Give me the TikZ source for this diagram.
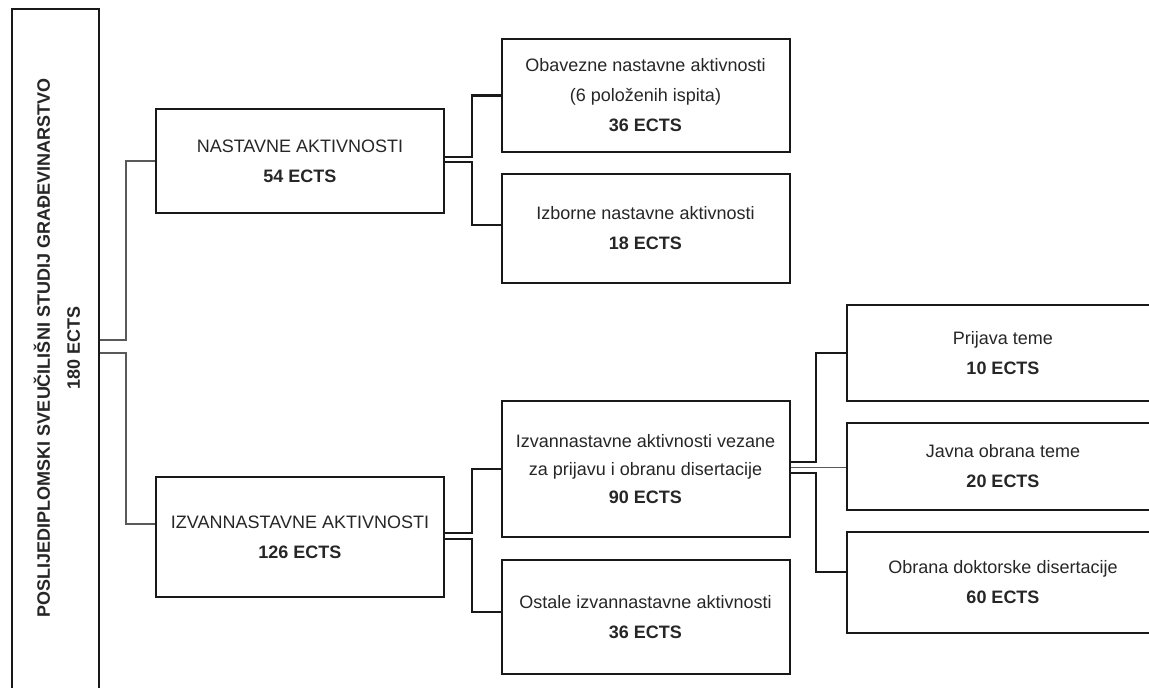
\documentclass[tikz,border=0pt]{standalone}
\usepackage{fontspec}
\setmainfont{Liberation Sans}
\usetikzlibrary{positioning}

\begin{document}
\begin{tikzpicture}
      [x=1pt, y=-1pt,
        box/.style={
          draw=black!90, line width=2pt,
          minimum width=288pt,
          inner sep=0pt,
          align=center, text=black!85,
          font=\fontsize{18}{30}\selectfont},
        link/.style={draw=black!90, line width=2.2pt},
        thinlink/.style={draw=black!65, line width=1.2pt}]
      \useasboundingbox (0,0) rectangle (1149,688);
      \clip (0,0) rectangle (1149,688);
      % root column
      \node[box, minimum width=87pt, minimum height=701pt] (root) at (55.5,359.5) {};
      \node[rotate=90, align=center, text=black!85,
        font=\bfseries\fontsize{18}{30}\selectfont] (roottext) at (57,348)
        {POSLIJEDIPLOMSKI SVEUČILIŠNI STUDIJ GRAĐEVINARSTVO\\180 ECTS};
      % second level
      \node[box, minimum height=104pt] (nast) at (300,161) {NASTAVNE AKTIVNOSTI\\\textbf{54 ECTS}};
      \node[box, minimum height=120pt] (izvan) at (300,537) {IZVANNASTAVNE AKTIVNOSTI\\\textbf{126 ECTS}};
      % third level
      \node[box, minimum height=113pt] (obav) at (645.5,95.5)
        {Obavezne nastavne aktivnosti\\(6 položenih ispita)\\\textbf{36 ECTS}};
      \node[box, minimum height=109pt] (izbor) at (645.5,228.5)
        {Izborne nastavne aktivnosti\\\textbf{18 ECTS}};
      \node[box, minimum height=136pt, font=\fontsize{18}{28}\selectfont] (vez) at (645.5,469)
        {Izvannastavne aktivnosti vezane\\za prijavu i obranu disertacije\\\textbf{90 ECTS}};
      \node[box, minimum height=114pt] (ostale) at (645.5,617)
        {Ostale izvannastavne aktivnosti\\\textbf{36 ECTS}};
      % fourth level
      \node[box, minimum width=312pt, minimum height=96pt] (prij) at (1003,353)
        {Prijava teme\\\textbf{10 ECTS}};
      \node[box, minimum width=312pt, minimum height=87pt] (javna) at (1003,466.5)
        {Javna obrana teme\\\textbf{20 ECTS}};
      \node[box, minimum width=312pt, minimum height=101pt] (obrana) at (1003,582.5)
        {Obrana doktorske disertacije\\\textbf{60 ECTS}};
      % connectors
      \draw[thinlink] (root.east |- 0,340) -- (126,340) |- (nast.west);
      \draw[thinlink] (root.east |- 0,353) -- (126,353) |- (izvan.west |- 0,524);
      \draw[link] (nast.east |- 0,157) -- (472,157) |- (obav.west);
      \draw[link] (nast.east |- 0,162) -- (472,162) |- (izbor.west |- 0,225);
      \draw[link] (izvan.east |- 0,533) -- (472,533) |- (vez.west);
      \draw[link] (izvan.east |- 0,539) -- (472,539) |- (ostale.west |- 0,612);
      \draw[link] (vez.east |- 0,462) -- (816,462) |- (prij.west);
      \draw[thinlink] (vez.east |- 0,467.5) -- (javna.west |- 0,467.5);
      \draw[link] (vez.east |- 0,473) -- (816,473) |- (obrana.west |- 0,572);
    \end{tikzpicture}
\end{document}
